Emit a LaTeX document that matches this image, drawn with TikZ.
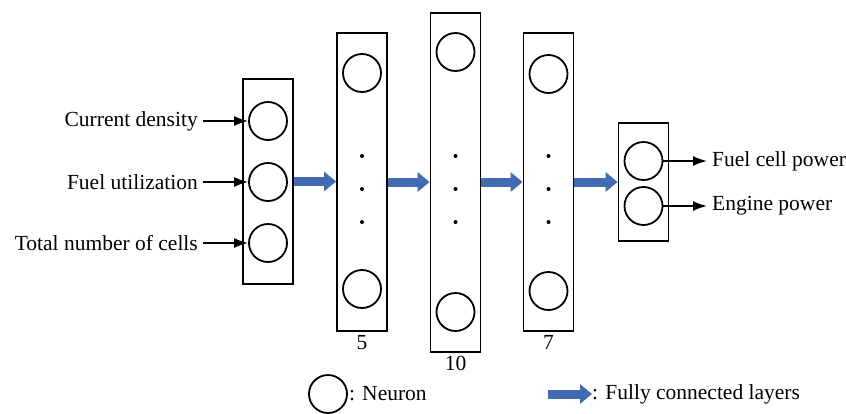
\documentclass[tikz,border=0pt]{standalone}
\usepackage{fontspec}
\setmainfont{Liberation Serif}
\usetikzlibrary{arrows.meta}
\definecolor{fcblue}{RGB}{66,108,178}
\tikzset{
  layer/.style={draw, line width=1.8pt, minimum width=50pt, inner sep=0pt},
  neuron/.style={draw, circle, line width=1.8pt, minimum size=38pt, inner sep=0pt},
  lbl/.style={inner sep=0pt, inner xsep=5pt, font=\fontsize{21.5}{25}\selectfont},
  num/.style={anchor=north, inner sep=3pt, font=\fontsize{21.5}{25}\selectfont},
  inarrow/.style={line width=1.6pt, -{Latex[length=14pt,width=10pt]}},
  fc/.style={fcblue, line width=9pt, -{Triangle[length=12pt,width=19pt]}},
  dotmark/.style={circle, fill, inner sep=0pt, minimum size=4pt}
}
\begin{document}
\begin{tikzpicture}[x=1pt,y=-1pt]
\useasboundingbox (0,0) rectangle (846,413);
% layers
\node[layer, minimum height=205pt] (L0) at (268,181.5) {};
\node[layer, minimum height=298pt] (L1) at (362,182) {};
\node[layer, minimum height=339pt] (L2) at (455.5,182.5) {};
\node[layer, minimum height=298pt] (L3) at (548.5,182) {};
\node[layer, minimum height=118pt] (L4) at (643.5,182) {};
% input neurons
\node[neuron] (i1) at (268,121) {};
\node[neuron] (i2) at (268,182) {};
\node[neuron] (i3) at (268,243) {};
% hidden neurons
\node[neuron] (a1) at (362,73) {};
\node[neuron] (a2) at (362,289) {};
\node[neuron] (b1) at (455.5,52) {};
\node[neuron] (b2) at (455.5,312) {};
\node[neuron] (c1) at (548.5,74) {};
\node[neuron] (c2) at (548.5,291) {};
% output neurons
\node[neuron] (o1) at (643.5,161) {};
\node[neuron] (o2) at (643.5,206) {};
% dots
\foreach \x/\n in {362/a,455.5/b,548.5/c}{
  \node[dotmark] (\n d1) at (\x,156) {};
  \node[dotmark] (\n d2) at (\x,189) {};
  \node[dotmark] (\n d3) at (\x,222) {};
}
% input labels
\node[lbl, anchor=east] (t1) at (203,121) {Current density};
\node[lbl, anchor=east] (t2) at (203,182) {Fuel utilization};
\node[lbl, anchor=east] (t3) at (203,243) {Total number of cells};
\draw[inarrow] (t1) -- (i1);
\draw[inarrow] (t2) -- (i2);
\draw[inarrow] (t3) -- (i3);
% output labels
\node[lbl, anchor=west] (u1) at (707,161) {Fuel cell power};
\node[lbl, anchor=west] (u2) at (707,206) {Engine power};
\draw[inarrow] (o1) -- (u1);
\draw[inarrow] (o2) -- (u2);
% fully connected arrows
\draw[fc] (L0.east) -- (L1.west |- L0.east);
\draw[fc] (L1.east) -- (L2.west |- L1.east);
\draw[fc] (L2.east |- L1.east) -- (L3.west);
\draw[fc] (L3.east) -- (L4.west);
% layer sizes
\node[num] (n1) at (L1.south) {5};
\node[num] (n2) at (L2.south) {10};
\node[num] (n3) at (L3.south) {7};
% legend
\node[neuron] (lg1) at (328,394) {};
\node[lbl, anchor=west, inner xsep=1pt] (lg1t) at (lg1.east) {: Neuron};
\coordinate (lg2s) at (548,394);
\node[lbl, anchor=west, inner xsep=0pt] (lg2t) at (592,394) {: Fully connected layers};
\draw[fc] (lg2s) -- (lg2t.west);
\end{tikzpicture}
\end{document}
